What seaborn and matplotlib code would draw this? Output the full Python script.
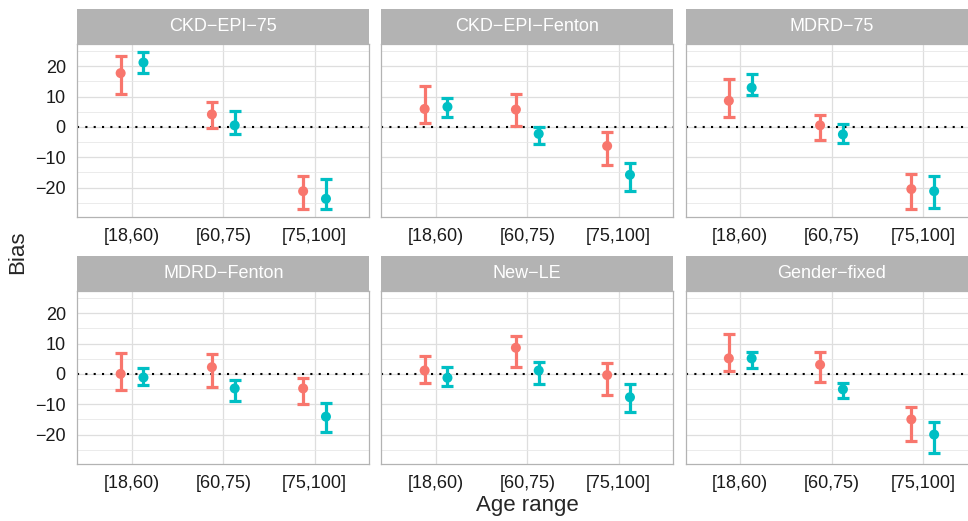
import numpy as np
import pandas as pd
import seaborn as sns
import matplotlib.pyplot as plt
from matplotlib.patches import Rectangle

# Bias estimates with 95% intervals
methods = ['CKD\u2212EPI\u221275', 'CKD\u2212EPI\u2212Fenton', 'MDRD\u221275',
           'MDRD\u2212Fenton', 'New\u2212LE', 'Gender\u2212fixed']
ages = ['[18,60)', '[60,75)', '[75,100]']
sexes = ['Female', 'Male']

female_bias = [[17.7, 4.1, -21.2], [5.9, 5.7, -6.3], [8.6, 0.5, -20.5],
               [0.0, 2.2, -4.8], [1.1, 8.6, -0.4], [5.1, 3.0, -15.0]]
female_lo = [[10.7, -0.5, -27.1], [1.3, 0.4, -12.7], [3.4, -4.3, -27.2],
             [-5.3, -4.2, -10.0], [-3.1, 2.1, -7.0], [0.9, -2.7, -22.2]]
female_hi = [[23.2, 8.2, -16.2], [13.4, 10.8, -1.8], [15.8, 4.0, -15.5],
             [6.8, 6.6, -1.3], [6.0, 12.5, 3.7], [13.2, 7.1, -10.8]]

male_bias = [[21.2, 0.5, -23.7], [6.6, -2.3, -15.8], [12.9, -2.5, -21.2],
             [-1.2, -4.8, -14.1], [-1.3, 1.1, -7.7], [5.1, -5.1, -20.0]]
male_lo = [[17.9, -2.4, -26.9], [3.4, -5.6, -21.2], [10.5, -5.2, -26.7],
           [-3.7, -9.1, -19.1], [-4.1, -3.5, -12.7], [2.0, -8.1, -26.1]]
male_hi = [[24.8, 5.2, -17.3], [9.6, -0.1, -12.0], [17.3, 1.0, -16.2],
           [2.0, -2.1, -9.7], [2.3, 4.0, -3.5], [7.3, -2.9, -15.8]]

rows = []
for i, m in enumerate(methods):
    for j, a in enumerate(ages):
        rows.append(dict(method=m, age=a, sex=sexes[0], bias=female_bias[i][j],
                         lo=female_lo[i][j], hi=female_hi[i][j]))
        rows.append(dict(method=m, age=a, sex=sexes[1], bias=male_bias[i][j],
                         lo=male_lo[i][j], hi=male_hi[i][j]))
df = pd.DataFrame(rows)
df['x'] = df['age'].map({a: k for k, a in enumerate(ages)}) + \
    df['sex'].map({'Female': -0.125, 'Male': 0.125})

palette = {'Female': '#F8766D', 'Male': '#00BFC4'}

sns.set_style('white')
plt.rcParams['font.family'] = ['Liberation Sans', 'DejaVu Sans']

W, H = 968, 521
fig = plt.figure(figsize=(W / 100, H / 100), dpi=100)

lefts = [77.3, 381.3, 685.5]
tops = [44.0, 291.0]
pw, ph = 292.0, 172.7
strip_h = 35.0

for i, m in enumerate(methods):
    r, c = divmod(i, 3)
    ax = fig.add_axes([lefts[c] / W, 1 - (tops[r] + ph) / H, pw / W, ph / H])
    sub = df[df['method'] == m]

    for sex in sexes:
        s = sub[sub['sex'] == sex]
        ax.errorbar(s['x'], s['bias'], yerr=[s['bias'] - s['lo'], s['hi'] - s['bias']],
                    fmt='none', ecolor=palette[sex], elinewidth=2.3, capsize=4.4,
                    capthick=2.3, zorder=3)
    sns.scatterplot(data=sub, x='x', y='bias', hue='sex', palette=palette, s=52,
                    edgecolor='none', legend=False, ax=ax, zorder=4)
    ax.axhline(0, color='black', linestyle=(0, (1, 3)), linewidth=1.5, zorder=2)

    ax.set_xlim(-0.6, 2.6)
    ax.set_ylim(-29.6, 27.3)
    ax.set_xticks(range(len(ages)))
    ax.set_xticklabels(ages)
    ax.set_yticks([-20, -10, 0, 10, 20])
    ax.set_yticks([-25, -15, -5, 5, 15, 25], minor=True)
    ax.grid(which='major', color='#DEDEDE', linewidth=0.9)
    ax.grid(which='minor', axis='y', color='#E8E8E8', linewidth=0.6)
    ax.set_axisbelow(True)
    ax.set_xlabel('')
    ax.set_ylabel('')
    for sp in ax.spines.values():
        sp.set_color('#B3B3B3')
        sp.set_linewidth(0.9)
    ax.tick_params(axis='both', which='major', length=4, width=0.8, color='#B3B3B3',
                   labelsize=13, labelcolor='#1A1A1A')
    ax.tick_params(axis='x', which='major', pad=4.2)
    ax.tick_params(axis='y', which='major', pad=4.3)
    ax.tick_params(axis='y', which='minor', length=0)
    if c != 0:
        ax.tick_params(axis='y', labelleft=False, length=0)

    sh = strip_h / ph
    ax.add_patch(Rectangle((0, 1), 1, sh, transform=ax.transAxes, clip_on=False,
                           facecolor='#B3B3B3', edgecolor='none', zorder=5))
    ax.text(0.5, 1 + sh / 2, m, transform=ax.transAxes, ha='center', va='center',
            color='white', fontsize=13, zorder=6)

fig.text(18 / W, 1 - 252 / H, 'Bias', rotation=90, ha='center', va='center', fontsize=16)
fig.text(527 / W, 1 - 505 / H, 'Age range', ha='center', va='center', fontsize=16)

fig.savefig('out.png', dpi=100)
